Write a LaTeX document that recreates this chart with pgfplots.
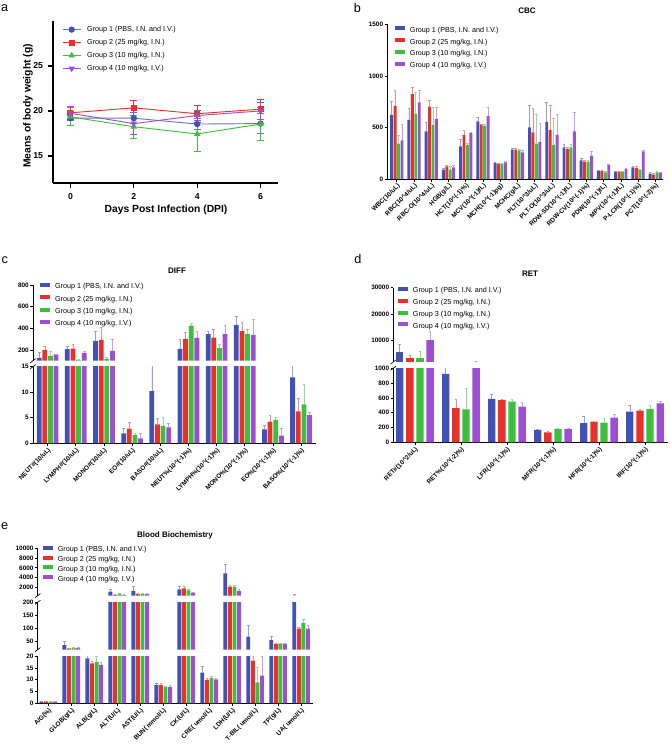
\documentclass[border=0pt]{standalone}
\usepackage{fontspec}
\setmainfont{Liberation Sans}
\usepackage{pgfplots}
\usepackage{pgfplotstable}
\pgfplotsset{compat=1.18}

\definecolor{c1}{HTML}{4052B5}
\definecolor{c2}{HTML}{E8312A}
\definecolor{c3}{HTML}{3DBE3D}
\definecolor{c4}{HTML}{9C4FD0}

\newcommand{\ca}{\textasciicircum}
\newcommand{\fs}[1]{\fontsize{#1}{#1}\selectfont}

% a: body weight
\pgfplotstableread{
x  g1    e1   g2    e2   g3    e3   g4    e4
0  19.2  0.8  19.8  0.7  19.35 1.0  19.75 0.8
2  19.2  0.6  20.35 0.8  18.25 1.3  18.6  1.2
4  18.55 0.6  19.7  0.95 17.45 1.9  19.5  0.6
6  18.6  1.1  20.2  1.1  18.55 1.85 20.0  0.9
}\taba

% b: CBC
\pgfplotstableread{
x  g1   e1   g2   e2   g3   e3   g4   e4
0  623  129  710  148  342  77   374  158
1  574  110  823  67   632  204  742  116
2  461  91   703  65   526  174  584  116
3  90   16   123  9    90   33   113  16
4  316  65   429  39   332  16   445  10
5  558  45   526  8    516  10   613  87
6  155  10   148  5    148  5    161  13
7  284  10   284  10   277  7    258  16
8  500  219  452  232  342  281  361  175
9  555  193  477  233  332  258  429  194
10 306  26   290  20   306  26   461  184
11 181  19   168  10   168  9    226  42
12 77   7    77   10   65   5    135  7
13 74   5    74   5    74   5    97   5
14 113  13   106  20   90   5    268  9
15 52   16   42   16   65   5    61   5
}\tabb

% c: DIFF
\pgfplotstableread{
x  g1    e1   g2    e2   g3    e3   g4    e4
0  126   49   200   37   145   40   157   6
1  206   31   212   43   108   5    172   13
2  283   92   292   114  117   15   191   107
3  1.96  0.95 2.9   1.2  1.63  0.33 0.98  0.98
4  10.2  5.5  3.7   1.2  3.4   1.7  3.1   0.9
5  209   89   302   61   425   18   311   64
6  345   30   314   80   215   40   345   86
7  431   83   372   83   348   46   338   145
8  2.74  0.85 4.24  1.3  4.57  0.45 1.5   1.4
9  12.9  2.5  6.26  2.6  7.63  4.0  5.5   0.5
}\tabc

% d: RET
\pgfplotstableread{
x  g1    e1    g2    e2   g3    e3    g4     e4
0  5600  3000  3600  700  3600  2500  10250  3400
1  923   150   460   120  446   284   2010   100
2  585   64    572   13   550   35    482    59
3  167   13    135   9    176   13    176    13
4  257   90    279   9    266   58    333    45
5  414   81    428   18   450   55    527    32
}\tabd

% e: blood biochemistry
\pgfplotstableread{
x  g1    e1    g2    e2    g3    e3    g4    e4
0  0.6   0.2   0.8   0.1   0.8   0.1   0.7   0.1
1  37    13    24.4  1.5   25.6  1.5   25.6  1.5
2  19.0  2.5   16.9  0.7   17.5  2.5   16.2  1.1
3  1034  552   345   207   483   207   276   138
4  1172  897   483   100   552   100   483   137
5  7.7   0.7   7.7   0.6   6.8   0.4   7.0   0.6
6  1517  552   1724  483   1310  276   828   138
7  12.95 2.85  9.9   0.5   10.6  0.8   10.1  0.3
8  4828  1862  2069  345   2000  276   1172  414
9  69    45    18.0  12.8  8.9   6.3   11.7  8.3
10 56    16    41    2.6   43.6  1.5   42.3  2.7
11 205   250   100   5     120.5 15.5  100   14
}\tabe

\pgfplotsset{
  gp/.style={scale only axis, anchor=south west, axis y line*=left,
    axis line style={-, line width=0.5pt}, tick align=outside,
    major tick length=2pt, tick style={black, line width=0.5pt},
    ticklabel style={font=\bfseries\fs{4.8}},
    /pgf/number format/assume math mode=true,
    /pgf/number format/1000 sep={}, scaled y ticks=false,
    yticklabel style={inner sep=1pt}},
  low/.style={gp, axis x line*=bottom, xtick={0,...,#1},
    xticklabel style={rotate=45, anchor=north east, inner sep=0.5pt}},
  % upper segment of a broken axis: bars below its floor are left out
  up/.style={gp, axis x line=none, ymin=#1,
    y filter/.expression={y<#1 ? nan : y}},
  gbar/.style={ybar, bar width=0.17, bar shift=0pt, draw=none,
    legend image code/.code={\fill[##1] (0pt,0.3pt) rectangle (7.5pt,3.3pt);}},
  s/.style={gbar, fill=#1, error bars/.cd, y dir=plus, y explicit,
    error bar style={line width=0.45pt, #1!55},
    error mark options={rotate=90, line width=0.45pt, #1!55, mark size=1pt}},
  leg/.style={legend cell align=left,
    legend style={draw=none, fill=none, font=\fs{5.4}, at={#1}, anchor=north west,
      inner sep=0pt, row sep=2.8pt, nodes={inner sep=0.5pt},
      /tikz/every odd column/.append style={column sep=3pt}}},
  groups/.style={legend entries={{Group 1 (PBS, I.N. and I.V.)},
    {Group 2 (25 mg/kg, I.N.)}, {Group 3 (10 mg/kg, I.N.)}, {Group 4 (10 mg/kg, I.V.)}}},
}

% four bars per category, #2 = pitch between bars
\newcommand{\fourbars}[2]{%
  \addplot[s=c1] table[x expr=\thisrow{x}-3*#2, y=g1, y error=e1]{#1};
  \addplot[s=c2] table[x expr=\thisrow{x}-#2, y=g2, y error=e2]{#1};
  \addplot[s=c3] table[x expr=\thisrow{x}+#2, y=g3, y error=e3]{#1};
  \addplot[s=c4] table[x expr=\thisrow{x}+3*#2, y=g4, y error=e4]{#1};
}

\begin{document}
\begin{tikzpicture}
\useasboundingbox (0,0) rectangle (502.5pt,558pt);

% ---------- a ----------
\begin{axis}[scale only axis, anchor=south west, at={(39.75pt,420.75pt)},
  width=168.75pt, height=121.5pt, xmin=-0.55, xmax=6.55, ymin=12, ymax=30,
  xtick={0,2,4,6}, ytick={15,20,25},
  axis x line*=bottom, axis y line*=left, axis line style={-, line width=0.8pt},
  tick align=outside, major tick length=4pt, tick style={black, line width=0.8pt},
  ticklabel style={font=\bfseries\fs{6.5}},
  /pgf/number format/assume math mode=true,
  legend cell align=left,
  legend style={draw=none, fill=none, font=\fs{5.4}, at={(0.04,0.975)}, anchor=north west,
    inner sep=0pt, row sep=3.3pt, nodes={inner sep=0.5pt},
    /tikz/every odd column/.append style={column sep=4pt}},
  legend image code/.code={\draw[mark repeat=2, mark phase=2, #1] plot coordinates {(0pt,0pt) (6.75pt,0pt) (13.5pt,0pt)};},
  groups]
\addplot[c1!80, line width=0.7pt, mark=*, mark size=2pt, mark options={c1, solid},
  error bars/.cd, y dir=both, y explicit, error bar style={c1!80, line width=0.6pt},
  error mark options={rotate=90, c1!80, line width=0.6pt, mark size=2.5pt}]
  table[x=x, y=g1, y error=e1]{\taba};
\addplot[c2, line width=0.7pt, mark=square*, mark size=1.9pt, mark options={c2, solid},
  error bars/.cd, y dir=both, y explicit, error bar style={c2, line width=0.6pt},
  error mark options={rotate=90, c2, line width=0.6pt, mark size=2.5pt}]
  table[x=x, y=g2, y error=e2]{\taba};
\addplot[c3, line width=0.7pt, mark=triangle*, mark size=2.1pt, mark options={c3, solid},
  error bars/.cd, y dir=both, y explicit, error bar style={c3, line width=0.6pt},
  error mark options={rotate=90, c3, line width=0.6pt, mark size=2.5pt}]
  table[x=x, y=g3, y error=e3]{\taba};
\addplot[c4, line width=0.7pt, mark=triangle*, mark size=2.1pt, mark options={c4, solid, rotate=180},
  error bars/.cd, y dir=both, y explicit, error bar style={c4, line width=0.6pt},
  error mark options={rotate=90, c4, line width=0.6pt, mark size=2.5pt}]
  table[x=x, y=g4, y error=e4]{\taba};
\end{axis}
\node[font=\bfseries\fs{7.75}] at (124.5pt,400.5pt) {Days Post Infection (DPI)};
\node[font=\bfseries\fs{7.75}, rotate=90] at (21pt,478.5pt) {Means of body weight (g)};

% ---------- b ----------
\begin{axis}[low=15, at={(290.5pt,423.75pt)}, width=206.8pt, height=116pt,
  xmin=-0.55, xmax=15.45, ymin=0, ymax=1500, ytick={0,500,1000,1500},
  xticklabels={WBC(10/uL), RBC(10\ca4/uL), RBC-O(10\ca4/uL), HGB(g/L),
    HCT(10\ca(-1)\%), MCV(10\ca(-1)fL), MCH(10\ca(-1)pg), MCHC(g/L),
    PLT(10\ca3/uL), PLT-O(10\ca3/uL), RDW-SD(10\ca(-1)fL), RDW-CV(10\ca(-1)\%),
    PDW(10\ca(-1)fL), MPV(10\ca(-1)fL), P-LCR(10\ca(-1)\%), PCT(10\ca(-2)\%)},
  leg={(0.028,0.99)}, legend style={row sep=2.4pt}, groups]
\fourbars{\tabb}{0.1}
\end{axis}

% ---------- c ----------
\begin{axis}[low=9, name=cl, at={(24.75pt,225.5pt)}, width=212.25pt, height=57.5pt,
  xmin=-0.52, xmax=9.53, ymin=0, ymax=15, ytick={0,5,10,15},
  xticklabels={NEUT\#(10/uL), LYMPH\#(10/uL), MONO\#(10/uL), EO\#(10/uL), BASO\#(10/uL),
    NEUT\%(10\ca(-1)\%), LYMPH\%(10\ca(-1)\%), MONO\%(10\ca(-1)\%), EO\%(10\ca(-1)\%),
    BASO\%(10\ca(-1)\%)}]
\fourbars{\tabc}{0.1}
\end{axis}
\begin{axis}[up=100, name=cu, at={(24.75pt,287.5pt)}, width=212.25pt, height=56.8pt,
  xmin=-0.52, xmax=9.53, ymax=800, ytick={200,400,600,800},
  leg={(0.025,1.033)}, groups]
\fourbars{\tabc}{0.1}
\end{axis}

% ---------- d ----------
\begin{axis}[low=5, name=dl, at={(295pt,226.3pt)}, width=206pt, height=55.5pt,
  xmin=-0.47, xmax=5.5, ymin=0, ymax=1000, ytick={0,200,...,1000},
  xticklabels={RET\#(10\ca2/uL), RET\%(10\ca(-2)\%), LFR(10\ca(-1)\%),
    MFR(10\ca(-1)\%), HFR(10\ca(-1)\%), IRF(10\ca(-1)\%)},
  gbar/.append style={bar width=0.16}]
\fourbars{\tabd}{0.11}
\end{axis}
\begin{axis}[up=2000, name=du, at={(295pt,286.6pt)}, width=206pt, height=55.6pt,
  xmin=-0.47, xmax=5.5, ymax=30000, ytick={10000,20000,30000},
  gbar/.append style={bar width=0.16},
  leg={(0.017,1.016)}, legend style={row sep=2.4pt}, groups]
\fourbars{\tabd}{0.11}
\end{axis}

% ---------- e ----------
\begin{axis}[low=11, name=el, at={(28.3pt,30.5pt)}, width=206.5pt, height=35.5pt,
  xmin=-0.46, xmax=11.52, ymin=0, ymax=20, ytick={0,5,...,20},
  xticklabels={A/G(\%), GLOB(g/L), ALB(g/L), ALT(U/L), AST(U/L), BUN( mmol/L),
    CK(U/L), CRE( umol/L), LDH(U/L), T-BIL( umol/L), TP(g/L), UA( umol/L)}]
\fourbars{\tabe}{0.1}
\end{axis}
\begin{axis}[up=20, name=em, at={(28.3pt,70.8pt)}, width=206.5pt, height=35.5pt,
  xmin=-0.46, xmax=11.52, ymax=200, ytick={50,100,150,200}]
\fourbars{\tabe}{0.1}
\end{axis}
\begin{axis}[up=200, name=et, at={(28.3pt,111.3pt)}, width=206.5pt, height=35.2pt,
  xmin=-0.46, xmax=11.52, ymax=10000, ytick={2000,4000,...,10000},
  leg={(0.019,1.068)}, groups,
  legend style={row sep=0.9pt}]
\fourbars{\tabe}{0.1}
\end{axis}

% axis breaks
\foreach \n in {cl,dl,em} {
  \draw[line width=0.5pt] ([shift={(-2pt,-1.5pt)}]\n.north west) -- ++(4pt,3pt);
}
\foreach \n in {cu,du,em,et} {
  \draw[line width=0.5pt] ([shift={(-2pt,-1.5pt)}]\n.south west) -- ++(4pt,3pt);
}

% titles and panel letters
\node[font=\bfseries\fs{6}] at (395.25pt,549.75pt) {CBC};
\node[font=\bfseries\fs{6}] at (132.75pt,354.75pt) {DIFF};
\node[font=\bfseries\fs{6}] at (397.5pt,352.5pt) {RET};
\node[font=\bfseries\fs{6}] at (131.25pt,156.75pt) {Blood Biochemistry};
\node[font=\fs{9.5}] at (3.5pt,552pt) {a};
\node[font=\fs{9.5}] at (268pt,552pt) {b};
\node[font=\fs{9.5}] at (3.5pt,363pt) {c};
\node[font=\fs{9.5}] at (268.5pt,363.5pt) {d};
\node[font=\fs{9.5}] at (3.5pt,163.5pt) {e};
\end{tikzpicture}
\end{document}
